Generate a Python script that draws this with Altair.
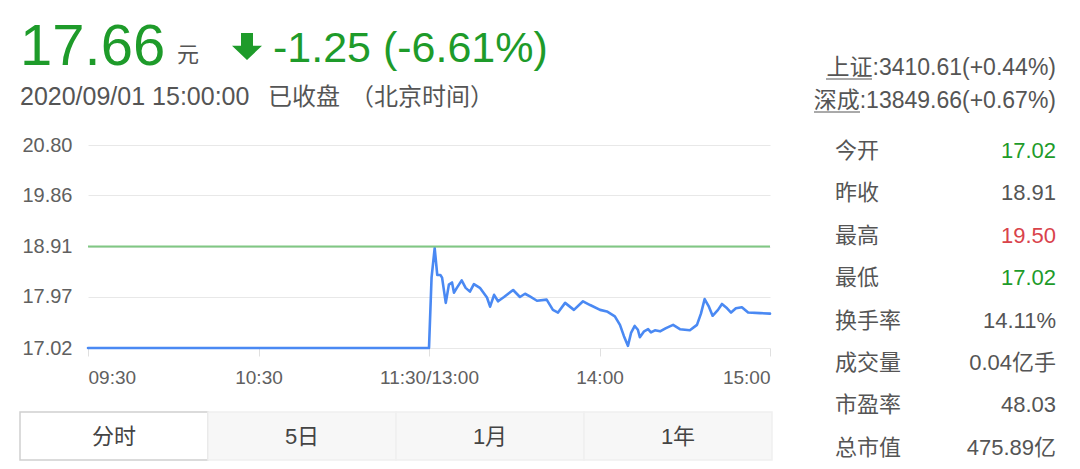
import altair as alt
import pandas as pd

# ---- intraday series (minutes since 09:30, trading-time axis; 120 = 11:30/13:00) ----
minutes = [0, 30, 60, 90, 120,
           120.9, 122.0, 122.9, 124.0, 124.6, 125.9, 127.0, 128.1, 128.8, 129.8,
           131.5, 132.9, 134.4, 135.8, 137.9, 140.4, 141.5, 142.9, 144.3, 146.4,
           149.6, 152.0, 153.8, 155.5, 158.0, 161.4, 163.6, 165.4, 167.9, 171.0,
           174.2, 176.7, 180.2, 182.6, 185.4, 187.2, 188.6, 190.0, 191.1, 192.4,
           193.5, 194.2, 195.7, 197.1, 198.1, 199.5, 201.3, 203.4, 205.9, 208.3,
           211.8, 214.3, 215.7, 217.0, 218.5, 219.8, 221.7, 223.1, 224.9, 226.3,
           228.0, 230.1, 232.3, 236.5, 240.0]
prices = [17.02, 17.02, 17.02, 17.02, 17.02,
          18.33, 18.88, 18.38, 18.38, 18.33, 17.86, 18.20, 18.24, 18.05, 18.14,
          18.28, 18.14, 18.07, 18.21, 18.14, 17.96, 17.79, 18.01, 17.89, 17.97,
          18.10, 17.97, 18.03, 17.98, 17.90, 17.92, 17.73, 17.68, 17.86, 17.73,
          17.89, 17.82, 17.73, 17.70, 17.61, 17.45, 17.24, 17.06, 17.30, 17.43,
          17.36, 17.22, 17.33, 17.37, 17.31, 17.35, 17.33, 17.39, 17.45, 17.37,
          17.35, 17.45, 17.66, 17.93, 17.79, 17.62, 17.73, 17.84, 17.76, 17.68,
          17.76, 17.78, 17.68, 17.67, 17.66]

prev_close = 18.91
y_ticks = [17.02, 17.97, 18.91, 19.86, 20.80]
x_ticks = [0, 60, 120, 180, 240]
x_tick_labels = ["09:30", "10:30", "11:30/13:00", "14:00", "15:00"]

# ---- quote panel ----
last_price = "17.66"
change_text = "-1.25 (-6.61%)"
timestamp = "2020/09/01 15:00:00"
status = "已收盘"
zone = "（北京时间）"
index_names = ["上证", "深成"]
index_values = [":3410.61(+0.44%)", ":13849.66(+0.67%)"]
stat_names = ["今开", "昨收", "最高", "最低", "换手率", "成交量", "市盈率", "总市值"]
stat_values = ["17.02", "18.91", "19.50", "17.02", "14.11%", "0.04亿手", "48.03", "475.89亿"]
stat_colors = ["#1e9b2a", "#555555", "#d9434b", "#1e9b2a",
               "#555555", "#555555", "#555555", "#555555"]
tabs = ["分时", "5日", "1月", "1年"]

GREEN = "#1e9b2a"
GRAY = "#555555"
FONT = "Liberation Sans, Noto Sans CJK SC, sans-serif"

# plot area placement inside the 1080x469 canvas
L, T, W, H = 88, 145, 682, 203

line_df = pd.DataFrame({"t": minutes, "price": prices})
label_map = "{" + ",".join(f"'{v}':'{s}'" for v, s in zip(x_ticks, x_tick_labels)) + "}"

x_enc = alt.X("t:Q", scale=alt.Scale(domain=[0, 240], nice=False),
              axis=alt.Axis(values=x_ticks, labelExpr=f"{label_map}[datum.value]",
                            title=None, grid=False, domain=False,
                            tickColor="#e0e0e0", tickSize=8, labelPadding=12,
                            labelFontSize=19, labelColor="#606060", labelFont=FONT,
                            labelFlush=True))
y_enc = alt.Y("price:Q", scale=alt.Scale(domain=[17.02, 20.80], nice=False, zero=False),
              axis=alt.Axis(values=y_ticks, format=".2f", title=None, domain=False,
                            ticks=False, labelPadding=16, labelFontSize=20,
                            labelColor="#606060", labelFont=FONT,
                            gridColor="#e8e8e8", gridWidth=1))

price_line = alt.Chart(line_df).mark_line(color="#4a89f3", strokeWidth=2.6,
                                          strokeJoin="round", strokeCap="round",
                                          interpolate="linear").encode(x=x_enc, y=y_enc)

ref_rule = alt.Chart(pd.DataFrame({"price": [prev_close]})).mark_rule(
    color="#80c883", strokeWidth=2).encode(y="price:Q")

layers = []

# bottom tab strip
tab_df = pd.DataFrame({"tab": tabs, "i": list(range(len(tabs)))})
tab_w = 188
for i, name in enumerate(tabs):
    x0 = 20 + i * tab_w
    fill = "#ffffff" if i == 0 else "#f7f7f7"
    stroke = "#d0d0d0" if i == 0 else "#f0f0f0"
    layers.append(
        alt.Chart(tab_df[tab_df.i == i]).mark_rect(fill=fill, stroke=stroke, strokeWidth=1.5)
        .encode(x=alt.value(x0 - L), x2=alt.value(x0 + tab_w - L),
                y=alt.value(412 - T), y2=alt.value(460 - T)))
    layers.append(
        alt.Chart(tab_df[tab_df.i == i]).mark_text(font=FONT, fontSize=22, color="#444444",
                                                   align="center", baseline="alphabetic")
        .encode(text="tab:N", x=alt.value(x0 + tab_w / 2 - L), y=alt.value(444 - T)))


def label(text, x, y, size, color=GRAY, align="left", font=FONT):
    return alt.Chart(pd.DataFrame({"s": [text]})).mark_text(
        font=font, fontSize=size, color=color, align=align, baseline="alphabetic"
    ).encode(text="s:N", x=alt.value(x - L), y=alt.value(y - T))


# header
layers.append(label(last_price, 20, 65, 58, GREEN))
layers.append(label("元", 177, 62, 22, GRAY))
# down arrow glyph
arrow_path = ("M-0.4,-0.9 L0.4,-0.9 L0.4,-0.05 L1,-0.05 L0,0.9 "
              "L-1,-0.05 L-0.4,-0.05 Z")
layers.append(alt.Chart(pd.DataFrame({"s": ["down"]})).mark_point(
    shape=arrow_path, filled=True, fill=GREEN, opacity=1, size=900, strokeWidth=0)
    .encode(x=alt.value(247 - L), y=alt.value(46.5 - T)))
layers.append(label(change_text, 273, 62, 43, GREEN))
layers.append(label(timestamp, 20, 105, 25, GRAY))
layers.append(label(status, 268, 105, 24, GRAY))
layers.append(label(zone, 350, 105, 24, GRAY))

# index quotes (names underlined)
idx_base = [75, 108]
idx_start = [826, 814]
for name, val, yb, xs in zip(index_names, index_values, idx_base, idx_start):
    layers.append(label(name + val, 1056, yb, 23, GRAY, align="right"))
    layers.append(alt.Chart(pd.DataFrame({"s": [name]})).mark_rule(color=GRAY, strokeWidth=1)
                  .encode(x=alt.value(xs - L), x2=alt.value(xs + 46 - L),
                          y=alt.value(yb + 4 - T)))

# stats table
for i, (n, v, c) in enumerate(zip(stat_names, stat_values, stat_colors)):
    yb = 158 + i * 42.4
    layers.append(label(n, 835, yb, 22, GRAY))
    layers.append(label(v, 1056, yb, 22, c, align="right"))

chart = alt.layer(price_line, ref_rule, *layers).properties(
    width=W, height=H,
    background="white",
    padding={"left": L, "top": T, "right": 1080 - L - W, "bottom": 469 - T - H},
    autosize=alt.AutoSizeParams(type="none"),
).configure_view(strokeWidth=0)

chart.save("out.html", embed_options={"renderer": "svg", "actions": False})
